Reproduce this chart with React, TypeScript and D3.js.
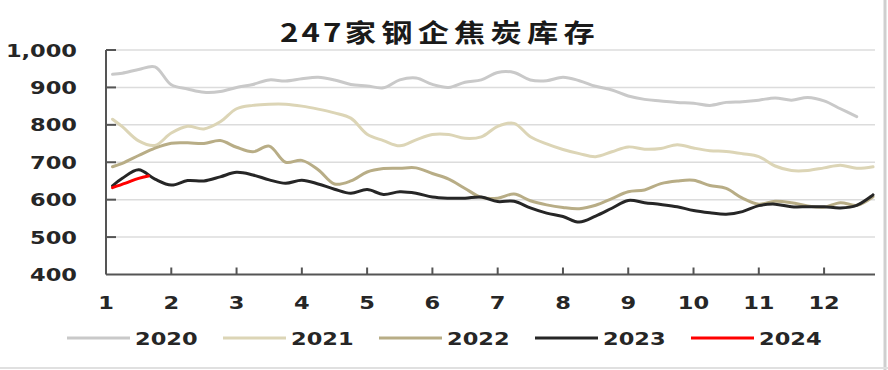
import React from 'react';
import * as d3 from 'd3';

// month positions (quarter-month steps)
const months = [1.1, 1.25, 1.5, 1.75, 2, 2.25, 2.5, 2.75, 3, 3.25, 3.5, 3.75, 4, 4.25, 4.5, 4.75, 5, 5.25, 5.5, 5.75, 6, 6.25, 6.5, 6.75, 7, 7.25, 7.5, 7.75, 8, 8.25, 8.5, 8.75, 9, 9.25, 9.5, 9.75, 10, 10.25, 10.5, 10.75, 11, 11.25, 11.5, 11.75, 12, 12.25, 12.5, 12.75];

const s2020 = [935, 938, 948, 955, 907, 896, 887, 889, 900, 908, 920, 917, 923, 927, 920, 908, 904, 899, 920, 925, 908, 900, 914, 920, 940, 940, 920, 918, 927, 918, 903, 893, 877, 868, 864, 860, 858, 852, 860, 862, 866, 872, 866, 873, 864, 843, 822, null];
const s2021 = [815, 795, 757, 745, 778, 796, 789, 808, 843, 852, 855, 855, 850, 842, 832, 818, 775, 758, 744, 760, 774, 774, 764, 768, 796, 804, 768, 749, 734, 723, 715, 728, 741, 735, 737, 747, 738, 731, 729, 723, 715, 690, 678, 678, 685, 692, 684, 688];
const s2022 = [688, 697, 718, 738, 751, 752, 750, 758, 740, 728, 743, 700, 705, 680, 642, 650, 674, 683, 684, 685, 670, 655, 630, 606, 604, 615, 597, 586, 579, 576, 585, 603, 621, 626, 643, 650, 652, 638, 630, 604, 588, 596, 592, 583, 580, 592, 585, 608];
const s2023 = [637, 657, 680, 655, 639, 651, 650, 661, 673, 666, 653, 644, 652, 642, 628, 617, 627, 614, 621, 617, 607, 604, 604, 607, 595, 596, 578, 564, 555, 540, 556, 577, 598, 592, 587, 581, 571, 565, 561, 568, 584, 588, 581, 581, 581, 578, 585, 613];
const months2024 = [1.1, 1.3, 1.5, 1.65];
const s2024 = [632, 644, 657, 663];

const seriesNames = ['2020', '2021', '2022', '2023', '2024'];
const seriesColors = ['#c9c9c9', '#dcd5b6', '#b8ad86', '#262626', '#ff0000'];
const yTicks = [400, 500, 600, 700, 800, 900, 1000];
const xTicks = [1, 2, 3, 4, 5, 6, 7, 8, 9, 10, 11, 12];
const titleNum = '247';
const titleText = '家钢企焦炭库存';

const W = 888;
const H = 370;

export default function App() {
  const x = d3.scaleLinear().domain([1, 12.78]).range([106, 875]);
  const y = d3.scaleLinear().domain([400, 1000]).range([274.5, 50]);

  const line = d3
    .line<[number, number | null]>()
    .defined((d) => d[1] != null)
    .x((d) => x(d[0]))
    .y((d) => y(d[1] as number))
    .curve(d3.curveCatmullRom.alpha(0.5));

  const data: [number, number | null][][] = [
    months.map((m, i) => [m, s2020[i]]),
    months.map((m, i) => [m, s2021[i]]),
    months.map((m, i) => [m, s2022[i]]),
    months.map((m, i) => [m, s2023[i]]),
    months2024.map((m, i) => [m, s2024[i]]),
  ];

  const font = "'DejaVu Sans', Verdana, sans-serif";
  const axisColor = '#555555';

  return (
    <svg width={W} height={H} style={{ position: 'absolute', left: 0, top: 0, background: '#fff' }}>
      {/* frame */}
      <line x1={885} x2={885} y1={0} y2={H} stroke="#cfcfcf" strokeWidth={3} />
      <line x1={0} x2={W} y1={368} y2={368} stroke="#e0e0e0" strokeWidth={2} />

      {/* title */}
      <g transform="translate(280,42) scale(1.25,1)">
        <text fontFamily="'Noto Sans CJK SC', sans-serif" fontWeight={700} fontSize={25} fill="#1a1a1a">
          <tspan letterSpacing={2.5}>{titleNum}</tspan>
          <tspan letterSpacing={4.2}>{titleText}</tspan>
        </text>
      </g>

      {/* gridlines */}
      {yTicks.slice(1).map((t) => (
        <line key={t} x1={x(1)} x2={875} y1={y(t)} y2={y(t)} stroke="#dcdcdc" strokeWidth={1.5} />
      ))}

      {/* series */}
      {data.map((d, i) => (
        <path
          key={seriesNames[i]}
          d={line(d) || ''}
          fill="none"
          stroke={seriesColors[i]}
          strokeWidth={3}
          strokeLinejoin="round"
          strokeLinecap="round"
        />
      ))}

      {/* axes */}
      <line x1={x(1)} x2={x(1)} y1={y(1000)} y2={y(400)} stroke={axisColor} strokeWidth={2} />
      <line x1={x(1)} x2={875} y1={y(400)} y2={y(400)} stroke={axisColor} strokeWidth={2} />
      {yTicks.slice(1).map((t) => (
        <line key={t} x1={x(1)} x2={x(1) + 10} y1={y(t)} y2={y(t)} stroke={axisColor} strokeWidth={2} />
      ))}
      {xTicks.slice(1).map((t) => (
        <line key={t} x1={x(t)} x2={x(t)} y1={y(400) - 7} y2={y(400)} stroke={axisColor} strokeWidth={2} />
      ))}

      {/* y tick labels */}
      {yTicks.map((t) => (
        <g key={t} transform={`translate(77,${y(t) + 6.5}) scale(1.25,1)`}>
          <text textAnchor="end" fontFamily={font} fontWeight="bold" fontSize={18} fill="#262626">
            {d3.format(',')(t)}
          </text>
        </g>
      ))}

      {/* x tick labels */}
      {xTicks.map((t) => (
        <g key={t} transform={`translate(${x(t)},309) scale(1.25,1)`}>
          <text textAnchor="middle" fontFamily={font} fontWeight="bold" fontSize={18} fill="#262626">
            {t}
          </text>
        </g>
      ))}

      {/* legend */}
      {seriesNames.map((n, i) => {
        const lx = 67 + i * 156;
        return (
          <g key={n}>
            <line x1={lx} x2={lx + 63} y1={338} y2={338} stroke={seriesColors[i]} strokeWidth={3} />
            <g transform={`translate(${lx + 68},345) scale(1.25,1)`}>
              <text fontFamily={font} fontWeight="bold" fontSize={18} fill="#262626">
                {n}
              </text>
            </g>
          </g>
        );
      })}
    </svg>
  );
}
